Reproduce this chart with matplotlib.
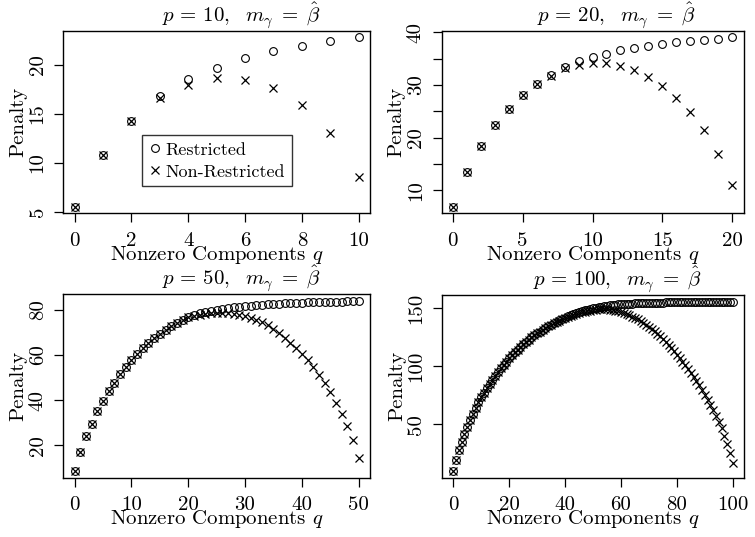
import matplotlib
matplotlib.use('Agg')
import matplotlib.pyplot as plt
from matplotlib.lines import Line2D

plt.rcParams['font.family'] = 'cmr10'
plt.rcParams['mathtext.fontset'] = 'cm'
plt.rcParams['axes.unicode_minus'] = False
plt.rcParams['axes.formatter.use_mathtext'] = True

# ---------------- data ----------------
restricted_p10 = [5.54, 10.78, 14.26, 16.79, 18.51, 19.66, 20.64, 21.35, 21.93, 22.40, 22.77]
nonrestricted_p10 = [5.54, 10.78, 14.26, 16.56, 17.97, 18.65, 18.48, 17.63, 15.85, 13.0, 8.51]

restricted_p20 = [6.9, 13.47, 18.42, 22.42, 25.5, 28.17, 30.2, 31.96, 33.4, 34.55, 35.4,
                  36.0, 36.6, 37.0, 37.5, 37.85, 38.1, 38.4, 38.6, 38.8, 39.05]
nonrestricted_p20 = [6.9, 13.47, 18.42, 22.42, 25.5, 28.17, 30.2, 31.8, 33.16, 33.8, 34.2,
                     34.1, 33.6, 32.8, 31.6, 29.9, 27.5, 24.8, 21.4, 16.9, 10.95]

restricted_p50 = [8.6, 16.9, 24.0, 29.6, 35.0, 39.6, 44.0, 47.7, 51.4, 54.8,
                  57.8, 60.4, 63.1, 65.5, 67.6, 69.5, 71.3, 72.9, 74.4, 75.7,
                  76.9, 77.8, 78.6, 79.2, 79.7, 80.1, 80.5, 80.9, 81.2, 81.5,
                  81.7, 81.9, 82.1, 82.3, 82.5, 82.6, 82.8, 82.9, 83.0, 83.1,
                  83.2, 83.3, 83.4, 83.5, 83.5, 83.6, 83.7, 83.7, 83.8, 83.8, 83.9]
nonrestricted_p50 = [8.6, 16.9, 24.0, 29.6, 35.0, 39.6, 44.0, 47.7, 51.4, 54.8,
                     57.8, 60.4, 63.1, 65.5, 67.6, 69.5, 71.3, 72.9, 74.4, 75.7,
                     76.7, 77.4, 77.9, 78.3, 78.5, 78.7, 78.7, 78.6, 78.3, 77.9,
                     77.3, 76.6, 75.7, 74.5, 73.2, 71.6, 69.7, 67.6, 65.3, 62.9,
                     60.5, 57.7, 54.7, 51.1, 47.4, 43.4, 38.9, 33.8, 28.5, 22.2, 14.3]

restricted_p100 = [10.0, 19.8, 27.8, 35.0, 41.6, 47.9, 53.7, 59.1, 64.3, 69.0,
                   73.3, 77.4, 81.3, 85.0, 88.6, 92.0, 95.2, 98.3, 101.3, 104.1,
                   106.8, 109.4, 111.9, 114.3, 116.6, 118.8, 120.9, 122.9, 124.8, 126.6,
                   128.3, 129.9, 131.4, 132.8, 134.3, 135.7, 137.0, 138.3, 139.5, 140.7,
                   141.8, 142.9, 143.9, 144.9, 145.8, 146.6, 147.4, 148.1, 148.8, 149.4,
                   150.0, 150.5, 151.0, 151.4, 151.8, 152.1, 152.4, 152.7, 153.0, 153.2,
                   153.4, 153.6, 153.8, 153.9, 154.0, 154.1, 154.2, 154.3, 154.4, 154.5,
                   154.6, 154.7, 154.75, 154.8, 154.85, 154.9, 154.95, 155.0, 155.05, 155.1,
                   155.15, 155.2, 155.2, 155.25, 155.3, 155.3, 155.35, 155.4, 155.4, 155.45,
                   155.5, 155.5, 155.5, 155.55, 155.6, 155.6, 155.6, 155.65, 155.7, 155.7, 155.7]
nonrestricted_p100 = [10.0, 19.8, 27.8, 35.0, 41.6, 47.9, 53.7, 59.1, 64.3, 69.0,
                      73.3, 77.4, 81.3, 85.0, 88.6, 92.0, 95.2, 98.3, 101.3, 104.1,
                      106.8, 109.4, 111.9, 114.3, 116.6, 118.8, 120.9, 122.9, 124.8, 126.6,
                      128.3, 129.9, 131.4, 132.8, 134.3, 135.7, 137.0, 138.2, 139.4, 140.5,
                      141.5, 142.5, 143.4, 144.3, 145.1, 145.8, 146.5, 147.1, 147.6, 148.0,
                      148.4, 148.7, 148.9, 149.0, 149.0, 148.9, 148.7, 148.4, 147.9, 147.3,
                      146.6, 145.8, 144.9, 143.9, 142.8, 141.6, 140.3, 138.9, 137.4, 135.8,
                      134.1, 132.3, 130.3, 128.2, 126.0, 123.6, 121.1, 118.5, 115.8, 113.0,
                      110.1, 107.1, 104.0, 100.8, 97.6, 94.3, 90.9, 87.3, 83.5, 79.5,
                      75.4, 71.3, 67.0, 62.5, 57.6, 52.3, 46.6, 40.4, 33.5, 25.6, 16.9]

p_values = [10, 20, 50, 100]
restricted = [restricted_p10, restricted_p20, restricted_p50, restricted_p100]
nonrestricted = [nonrestricted_p10, nonrestricted_p20, nonrestricted_p50, nonrestricted_p100]
x_ticks = [[0, 2, 4, 6, 8, 10], [0, 5, 10, 15, 20], [0, 10, 20, 30, 40, 50], [0, 20, 40, 60, 80, 100]]
y_ticks = [[5, 10, 15, 20], [10, 15, 20, 25, 30, 35, 40], [20, 40, 60, 80], [50, 100, 150]]
y_ticklabels = [['5', '10', '15', '20'], ['10', '', '20', '', '30', '', '40'],
                ['20', '40', '60', '80'], ['50', '100', '150']]
legend_labels = ['Restricted', 'Non-Restricted']

# ---------------- figure ----------------
W, H = 755, 537
fig = plt.figure(figsize=(W / 100, H / 100), dpi=100)

boxes = [(63.3, 370.0, 30.7, 213.3), (441.5, 743.5, 30.7, 213.3),
         (63.3, 370.0, 294.3, 477.7), (442.0, 744.0, 294.8, 477.7)]

FS = 15
for i, p in enumerate(p_values):
    l, r, t, b = boxes[i]
    ax = fig.add_axes([l / W, 1 - b / H, (r - l) / W, (b - t) / H])
    q = list(range(p + 1))
    ax.plot(q, restricted[i], linestyle='none', marker='o', ms=5.6, mfc='none',
            mec='black', mew=0.8)
    ax.plot(q, nonrestricted[i], linestyle='none', marker='x', ms=5.4,
            color='black', mew=0.9)
    ax.margins(x=0.04, y=0.04)
    ax.set_xticks(x_ticks[i])
    ax.set_xticklabels([str(v) for v in x_ticks[i]], fontsize=FS)
    ax.set_yticks(y_ticks[i])
    ax.set_yticklabels(y_ticklabels[i], fontsize=FS, rotation=90, va='center')
    ax.tick_params(direction='out', length=6.5, width=0.9, colors='black')
    ax.tick_params(axis='x', pad=7.0)
    ax.tick_params(axis='y', pad=5.5)
    for s in ax.spines.values():
        s.set_linewidth(1.0)
        s.set_color('black')
    ax.set_xlabel('Nonzero Components $q$', fontsize=FS)
    ax.set_ylabel('Penalty', fontsize=FS)
    hbox = b - t
    wbox = r - l
    ax.xaxis.set_label_coords(0.5, -30.5 / hbox)
    ax.yaxis.set_label_coords(-36.0 / wbox, 0.5)
    ax.set_title(r'$p\,{=}\,%d,\ \ m_\gamma\;{=}\;\hat{\beta}$' % p, fontsize=FS,
                 pad=2.5, x=0.5 + 24.0 / wbox)
    if i == 0:
        handles = [Line2D([], [], linestyle='none', marker='o', ms=5.6, mfc='none',
                          mec='black', mew=0.8),
                   Line2D([], [], linestyle='none', marker='x', ms=5.4,
                          color='black', mew=0.9)]
        leg = ax.legend(handles, legend_labels, loc='center',
                        bbox_to_anchor=(0.501, 0.2875), borderaxespad=0,
                        fontsize=13, frameon=True, fancybox=False,
                        handlelength=0.6, handletextpad=0.28, borderpad=0.38,
                        labelspacing=0.35)
        leg.get_frame().set_edgecolor('black')
        leg.get_frame().set_linewidth(1.0)

fig.savefig('out.png', dpi=100)
